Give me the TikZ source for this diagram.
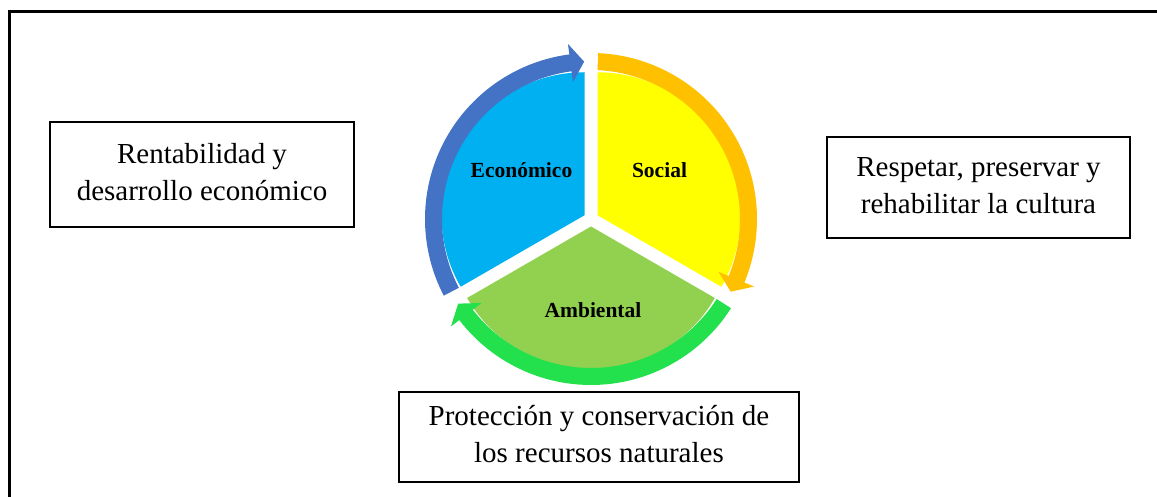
\documentclass[tikz,border=0pt]{standalone}
\usepackage{fontspec}
\setmainfont{Liberation Serif}
\definecolor{secblue}{HTML}{00B0F0}
\definecolor{arrblue}{HTML}{4472C4}
\definecolor{secyellow}{HTML}{FFFF00}
\definecolor{arrorange}{HTML}{FFC000}
\definecolor{secgreen}{HTML}{92D050}
\definecolor{arrgreen}{HTML}{22E14C}
\newcommand{\boxlines}[3]{\begin{tabular}{@{}c@{}}\rule{0pt}{\dimexpr 0.7\baselineskip+#1\relax}\strut #2\\\strut #3\end{tabular}}
\tikzset{
  txtbox/.style={draw=black, line width=1.8pt, fill=white, align=center, inner sep=0pt,
    font=\fontsize{29}{37}\selectfont},
  seclabel/.style={font=\fontsize{21.5}{26}\selectfont\bfseries, anchor=base, inner sep=0pt},
}
\begin{document}
\begin{tikzpicture}[x=1pt,y=1pt]
\useasboundingbox (0,0) rectangle (1157,497);
\fill[white] (0,0) rectangle (1157,497);
\begin{scope}
\clip (0,0) rectangle (1157,497);
\draw[line width=2.6pt] (9.5,-30) -- (9.5,485.5) -- (1190,485.5);
\end{scope}

% boxes
\node[txtbox, minimum width=304pt, minimum height=105pt] (econbox) at (202,322.5)
  {\boxlines{0pt}{Rentabilidad y}{desarrollo económico}};
\node[txtbox, minimum width=303pt, minimum height=101pt] (socbox) at (978.5,309.5)
  {\boxlines{4pt}{Respetar, preservar y}{rehabilitar la cultura}};
\node[txtbox, minimum width=400pt, minimum height=90pt] (ambbox) at (599,60)
  {\boxlines{8pt}{Protección y conservación de}{los recursos naturales}};

\begin{scope}[shift={(591,278)}]
  % sectors (slightly exploded)
  \fill[secblue] (150:7.5) -- ++(90:143) arc[start angle=90, end angle=210, radius=143] -- cycle;
  \fill[secyellow] (30:7.5) -- ++(-30:143) arc[start angle=-30, end angle=90, radius=143] -- cycle;
  \fill[secgreen] (270:7.5) -- ++(210:143) arc[start angle=210, end angle=330, radius=143] -- cycle;
  % circular arrows
  \fill[arrblue] (207.5:166) arc[start angle=207.5, end angle=97.5, radius=166]
    -- (97.5:176.5) -- (92.5:157.5) -- (97.5:138) -- (97.5:149)
    arc[start angle=97.5, end angle=207.5, radius=149] -- cycle;
  \fill[arrorange] (87.5:166) arc[start angle=87.5, end angle=-22.5, radius=166]
    -- (-22.5:176.5) -- (-27.5:157.5) -- (-22.5:138) -- (-22.5:149)
    arc[start angle=-22.5, end angle=87.5, radius=149] -- cycle;
  \fill[arrgreen] (-32.5:166) arc[start angle=-32.5, end angle=-142.5, radius=166]
    -- (-142.5:176.5) -- (-147.5:157.5) -- (-142.5:138) -- (-142.5:149)
    arc[start angle=-142.5, end angle=-32.5, radius=149] -- cycle;
\end{scope}

\node[seclabel] (econ) at (521.5,319) {Económico};
\node[seclabel] (soc) at (659.5,319) {Social};
\node[seclabel] (amb) at (593,179.7) {Ambiental};
\end{tikzpicture}
\end{document}
